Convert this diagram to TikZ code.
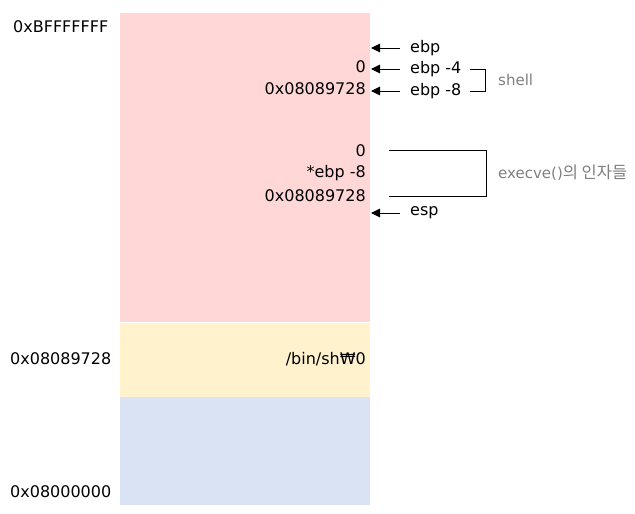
\documentclass[tikz,border=0pt]{standalone}
\usepackage{fontspec}
\setmainfont{DejaVu Sans}
\newfontfamily\kofont[Scale=1.1]{Noto Sans CJK KR}
\usetikzlibrary{positioning,arrows.meta}
\definecolor{stackred}{HTML}{FFD7D7}
\definecolor{dataylw}{HTML}{FFF2CC}
\definecolor{codeblue}{HTML}{DAE3F3}
\definecolor{notegray}{HTML}{7F7F7F}
\tikzset{
  region/.style={inner sep=0pt, minimum width=250pt, anchor=north west},
  addr/.style={anchor=west, inner sep=0pt, font=\fontsize{16}{18}\selectfont},
  cell/.style={anchor=east, inner sep=0pt, font=\fontsize{16}{18}\selectfont},
  reg/.style={anchor=west, inner xsep=10pt, inner ysep=0pt, font=\fontsize{16}{18}\selectfont},
  note/.style={anchor=west, inner sep=0pt, text=notegray, font=\fontsize{15}{18}\selectfont},
  ptr/.style={-{Triangle[length=9pt,width=8.5pt]}, line width=1pt},
  brace/.style={line width=1pt}
}
\begin{document}
\begin{tikzpicture}[x=1pt, y=-1pt]
    \useasboundingbox (0,0) rectangle (635,514);

    % memory regions
    \node[region, fill=stackred, minimum height=309pt] (stack) at (120,13) {};
    \node[region, fill=dataylw, minimum height=74pt, below=0pt of stack.south west, anchor=north west] (data) {};
    \node[region, fill=codeblue, minimum height=108pt, below=0pt of data.south west, anchor=north west] (code) {};

    % addresses
    \node[addr] (top) at (13,27) {0xBFFFFFFF};
    \node[addr] (shaddr) at (10,359) {0x08089728};
    \node[addr] (bottom) at (10,492) {0x08000000};

    % stack contents
    \node[cell] (zeroa) at (366,67) {0};
    \node[cell] (ptra) at (366,89) {0x08089728};
    \node[cell] (zerob) at (366,151) {0};
    \node[cell] (deref) at (366,173) {*ebp -8};
    \node[cell] (ptrb) at (366,196) {0x08089728};
    \node[cell] (binsh) at (366,359) {/bin/sh₩0};

    % registers
    \node[reg] (ebp) at (400,48) {ebp};
    \node[reg] (ebpa) at (400,69) {ebp -4};
    \node[reg] (ebpb) at (400,91) {ebp -8};
    \node[reg] (esp) at (400,213) {esp};

    \coordinate (ebptip) at (371,48);
    \coordinate (ebpatip) at (371,69);
    \coordinate (ebpbtip) at (371,91);
    \coordinate (esptip) at (371,213);

    \draw[ptr] (ebp) -- (ebptip);
    \draw[ptr] (ebpa) -- (ebpatip);
    \draw[ptr] (ebpb) -- (ebpbtip);
    \draw[ptr] (esp) -- (esptip);

    % groups
    \coordinate (shtop) at (470,69);
    \coordinate (shbot) at (470,91);
    \draw[brace] (shtop) -- (485,69) -- (485,91) -- (shbot);
    \node[note] (shell) at (498,80) {shell};

    \coordinate (argtop) at (389,150);
    \coordinate (argbot) at (389,196);
    \draw[brace] (argtop) -- (486,150) -- (486,196) -- (argbot);
    \node[note] (args) at (498,173) {execve()\kofont 의 인자들};
  \end{tikzpicture}
\end{document}
